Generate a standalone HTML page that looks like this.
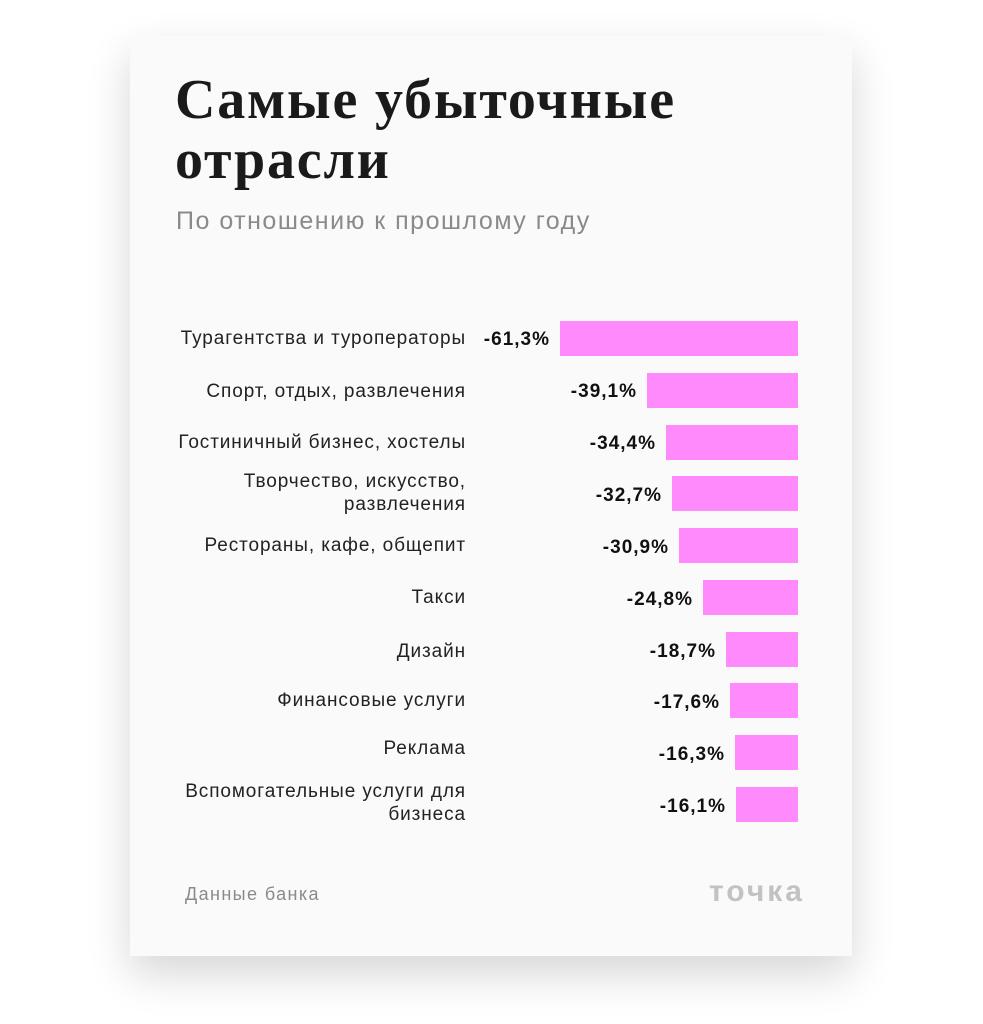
<!DOCTYPE html>
<html><head><meta charset="utf-8"><style>
body{margin:0;width:983px;height:1024px;background:#fff;position:relative;overflow:hidden;font-family:"Liberation Sans","DejaVu Sans",sans-serif}
.card{position:absolute;left:130px;top:36px;width:722px;height:920px;background:#fafafb;box-shadow:0 18px 40px rgba(0,0,0,0.16)}
h1{position:absolute;left:175px;top:70px;margin:0;font-family:"Liberation Serif",serif;font-weight:bold;font-size:56px;line-height:60px;color:#1a1a1a;letter-spacing:1.8px}
.sub{position:absolute;left:176px;top:207px;font-size:25px;color:#8a8a8a;letter-spacing:1.5px}
.lab{position:absolute;right:517px;font-size:19px;color:#222;text-align:right;line-height:23px;letter-spacing:0.9px}
.val{position:absolute;font-size:19px;font-weight:bold;color:#111;text-align:right;width:100px;letter-spacing:1px}
.bar{position:absolute;height:35px;background:#ff8afb;right:185px}
.foot{position:absolute;left:185px;top:884px;font-size:18px;color:#8a8a8a;letter-spacing:1.4px}
.logo{position:absolute;left:709px;top:875px;font-size:30px;font-weight:bold;color:#c2c2c2;letter-spacing:3px}
</style></head><body>
<div class="card"></div>
<h1>Самые убыточные<br>отрасли</h1>
<div class="sub">По отношению к прошлому году</div>

<div class="lab" style="top:327px">Турагентства и туроператоры</div>
<div class="val" style="top:329px;left:450px">-61,3%</div><div class="bar" style="top:321px;left:560px"></div>

<div class="lab" style="top:380px">Спорт, отдых, развлечения</div>
<div class="val" style="top:381px;left:537px">-39,1%</div><div class="bar" style="top:373px;left:647px"></div>

<div class="lab" style="top:431px">Гостиничный бизнес, хостелы</div>
<div class="val" style="top:433px;left:556px">-34,4%</div><div class="bar" style="top:425px;left:666px"></div>

<div class="lab" style="top:470px">Творчество, искусство,<br>развлечения</div>
<div class="val" style="top:485px;left:562px">-32,7%</div><div class="bar" style="top:476px;left:672px"></div>

<div class="lab" style="top:534px">Рестораны, кафе, общепит</div>
<div class="val" style="top:537px;left:569px">-30,9%</div><div class="bar" style="top:528px;left:679px"></div>

<div class="lab" style="top:586px">Такси</div>
<div class="val" style="top:589px;left:593px">-24,8%</div><div class="bar" style="top:580px;left:703px"></div>

<div class="lab" style="top:640px">Дизайн</div>
<div class="val" style="top:641px;left:616px">-18,7%</div><div class="bar" style="top:632px;left:726px"></div>

<div class="lab" style="top:689px">Финансовые услуги</div>
<div class="val" style="top:692px;left:620px">-17,6%</div><div class="bar" style="top:683px;left:730px"></div>

<div class="lab" style="top:737px">Реклама</div>
<div class="val" style="top:744px;left:625px">-16,3%</div><div class="bar" style="top:735px;left:735px"></div>

<div class="lab" style="top:780px">Вспомогательные услуги для<br>бизнеса</div>
<div class="val" style="top:796px;left:626px">-16,1%</div><div class="bar" style="top:787px;left:736px"></div>

<div class="foot">Данные банка</div>
<div class="logo">точка</div>
</body></html>
